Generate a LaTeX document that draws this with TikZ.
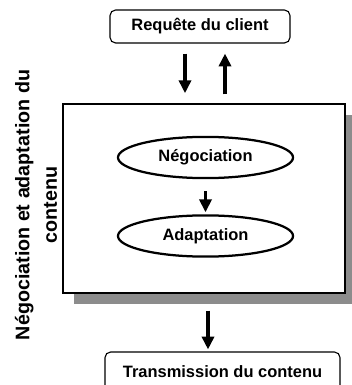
\documentclass[tikz,border=0pt]{standalone}
\usepackage{fontspec}
\setmainfont{Liberation Sans}
\usetikzlibrary{
    arrows.meta,
    positioning,
    shapes.geometric,
    shadows
}
\definecolor{ink}{RGB}{0,0,0}
\definecolor{shade}{RGB}{140,140,140}
\tikzset{
    stepbox/.style={
        rectangle,
        rounded corners=4pt,
        draw=ink,
        line width=0.8pt,
        fill=white,
        text=ink,
        align=center,
        font=\bfseries\fontsize{11.7}{13}\selectfont
    },
    phase/.style={
        ellipse,
        draw=ink,
        line width=1.6pt,
        fill=white,
        text=ink,
        minimum width=4.375cm,
        minimum height=1.03cm,
        font=\bfseries\fontsize{11.7}{13}\selectfont
    },
    panel/.style={
        rectangle,
        draw=ink,
        line width=1.1pt,
        fill=white,
        minimum width=7.05cm,
        minimum height=4.725cm,
        drop shadow={shadow xshift=0.28cm, shadow yshift=-0.28cm,
            fill=shade, opacity=1}
    },
    flow/.style={
        -{Triangle[length=0.32cm, width=0.3cm]},
        draw=ink,
        line width=2.4pt
    },
    sidelabel/.style={
        rotate=90,
        align=center,
        text=ink,
        font=\bfseries\fontsize{14}{19.5}\selectfont
    }
}

\begin{document}
\begin{tikzpicture}[x=0.025cm, y=-0.025cm]

\useasboundingbox (0,0) rectangle (351,385);

% Boxes
\node[stepbox, minimum width=4.5cm, minimum height=0.825cm] (req) at (200,26.5) {Requête du client};
\node[panel] (panel) at (204,198.5) {};
\node[phase] (neg) at (205.5,157.5) {Négociation};
\node[phase] (adapt) at (205.5,236) {Adaptation};
\node[stepbox, minimum width=5.875cm, minimum height=1cm] (trans) at (222.5,372) {Transmission du contenu};

% Side label
\node[sidelabel] (side) at (36,205) {Négociation et adaptation du\\contenu};

% Arrows
\coordinate (dnx) at (185,0);
\coordinate (upx) at (225,0);
\coordinate (outx) at (208,0);

\draw[flow, shorten <=0.25cm, shorten >=0.25cm] (req.south -| dnx) -- (panel.north -| dnx);
\draw[flow, shorten <=0.22cm, shorten >=0.25cm] (panel.north -| upx) -- (req.south -| upx);
\draw[flow, shorten <=0.3cm, shorten >=0.05cm] (neg) -- (adapt);
\draw[flow, shorten <=0.42cm, shorten >=0.05cm] (panel.south -| outx) -- (trans.north -| outx);

\end{tikzpicture}
\end{document}
